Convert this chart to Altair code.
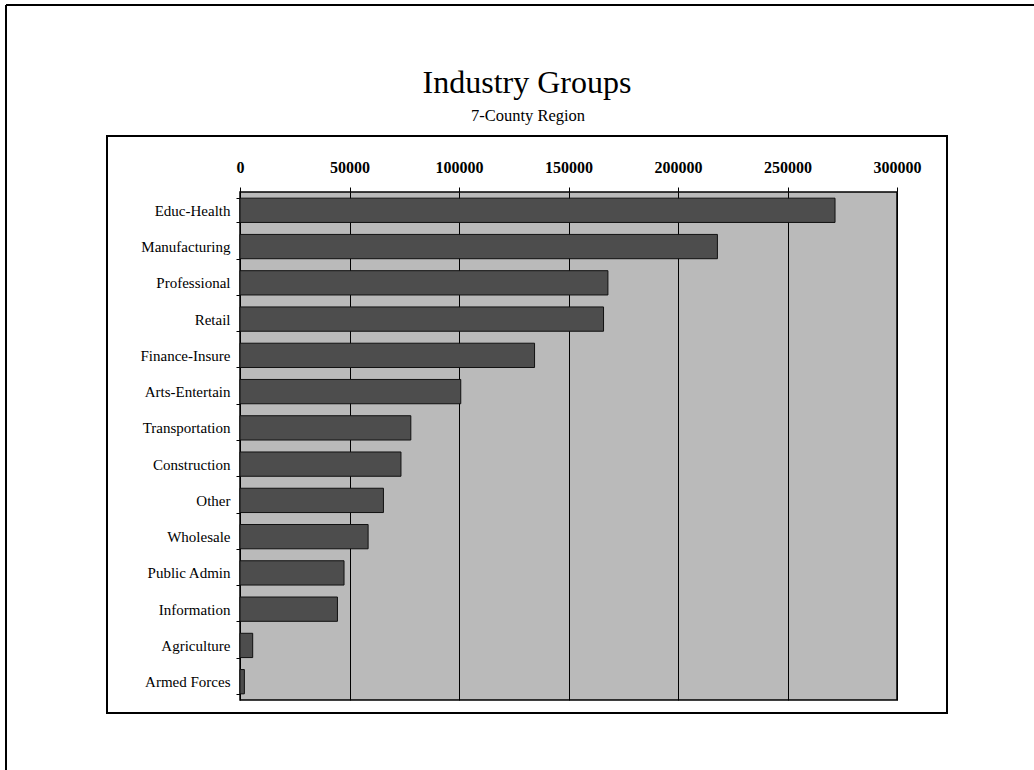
import altair as alt
import pandas as pd

categories = ["Educ-Health", "Manufacturing", "Professional", "Retail",
              "Finance-Insure", "Arts-Entertain", "Transportation", "Construction",
              "Other", "Wholesale", "Public Admin", "Information",
              "Agriculture", "Armed Forces"]
values = [271700, 218000, 168000, 166000, 134500, 100800, 78000, 73500,
          65500, 58500, 47500, 44500, 5800, 2000]
tick_values = [0, 50000, 100000, 150000, 200000, 250000, 300000]
title_text = "Industry Groups"
subtitle_text = "7-County Region"

df = pd.DataFrame({"Industry": categories, "Employment": values})

W, H = 657, 508
PAD_L, PAD_T = 240, 192
FONT = "Liberation Serif"

bars = alt.Chart(df).mark_bar(
    fill="#4d4d4d", stroke="#111111", strokeWidth=1
).encode(
    x=alt.X("Employment:Q",
            scale=alt.Scale(domain=[0, 300000], nice=False),
            axis=alt.Axis(orient="top", values=tick_values, format="d", title=None,
                          labelFont=FONT, labelFontWeight="bold", labelFontSize=16,
                          labelColor="black", labelPadding=12, labelFlush=False,
                          tickColor="black", tickSize=5, domain=False,
                          grid=True, gridColor="black", gridWidth=1, gridOpacity=1)),
    y=alt.Y("Industry:N", sort=categories,
            scale=alt.Scale(paddingInner=0.33, paddingOuter=0.17),
            axis=alt.Axis(title=None, labelFont=FONT, labelFontSize=15,
                          labelColor="black", labelPadding=6,
                          tickColor="black", tickSize=4, tickBand="extent",
                          domain=False, grid=False)),
)

one = pd.DataFrame({"k": [0]})

title = alt.Chart(one).mark_text(
    font=FONT, fontSize=32, color="black", align="center", baseline="alphabetic"
).encode(x=alt.value(527 - PAD_L), y=alt.value(93 - PAD_T), text=alt.value(title_text))

subtitle = alt.Chart(one).mark_text(
    font=FONT, fontSize=16.5, color="black", align="center", baseline="alphabetic"
).encode(x=alt.value(528 - PAD_L), y=alt.value(121 - PAD_T), text=alt.value(subtitle_text))

inner_box = alt.Chart(one).mark_rect(
    fill="transparent", stroke="black", strokeWidth=2
).encode(x=alt.value(107 - PAD_L), x2=alt.value(947 - PAD_L),
         y=alt.value(136 - PAD_T), y2=alt.value(713 - PAD_T))

outer_left = alt.Chart(one).mark_rule(color="black", strokeWidth=2).encode(
    x=alt.value(6 - PAD_L), y=alt.value(5 - PAD_T), y2=alt.value(770 - PAD_T))
outer_top = alt.Chart(one).mark_rule(color="black", strokeWidth=2).encode(
    y=alt.value(5 - PAD_T), x=alt.value(6 - PAD_L), x2=alt.value(1034 - PAD_L))

chart = alt.layer(bars, title, subtitle, inner_box, outer_left, outer_top).properties(
    width=W, height=H,
    autosize=alt.AutoSizeParams(type="none"),
    padding={"left": PAD_L, "top": PAD_T, "right": 1034 - PAD_L - W, "bottom": 770 - PAD_T - H},
    background="white",
).configure_view(
    fill="#bababa", stroke="black", strokeWidth=1.5
)

chart.save("out.html", embed_options={"renderer": "svg", "actions": False})
